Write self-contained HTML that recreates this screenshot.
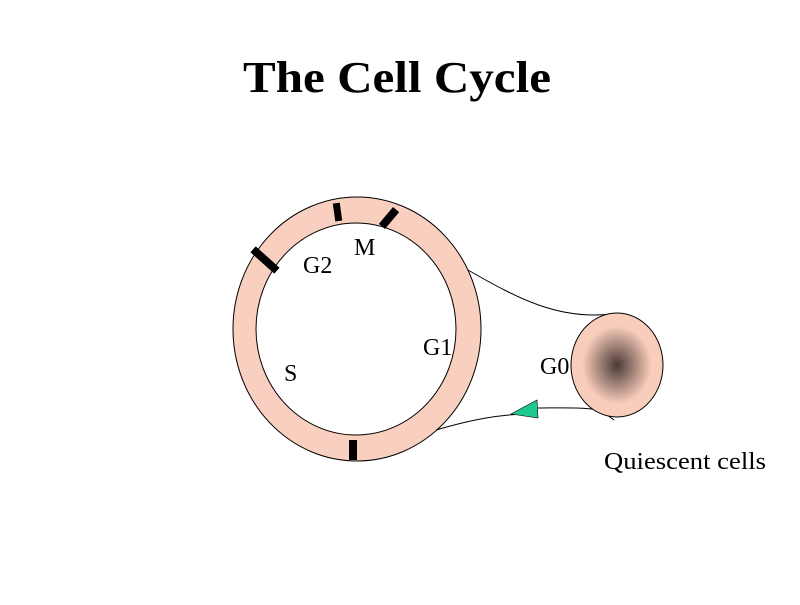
<!DOCTYPE html>
<html><head><style>
body{margin:0;background:#fff;width:800px;height:600px;overflow:hidden}
</style></head><body>
<svg width="800" height="600" xmlns="http://www.w3.org/2000/svg">
<defs>
<radialGradient id="g" cx="0.5" cy="0.5" r="0.5">
<stop offset="0" stop-color="#4a3a36"/>
<stop offset="0.75" stop-color="#f9cdbb"/>
<stop offset="1" stop-color="#f9cdbb"/>
</radialGradient>
</defs>
<text x="397" y="92" text-anchor="middle" font-family="Liberation Serif" font-weight="bold" font-size="44" textLength="308" lengthAdjust="spacingAndGlyphs">The Cell Cycle</text>
<ellipse cx="357" cy="329" rx="124" ry="132" fill="#f9d0c0" stroke="#000" stroke-width="1"/>
<ellipse cx="356" cy="329" rx="100" ry="106" fill="#fff" stroke="#000" stroke-width="1"/>
<rect x="261" y="244" width="8" height="32" fill="#000" transform="rotate(-48 265 260)"/>
<rect x="334" y="203" width="7" height="18" fill="#000" transform="rotate(-8 338 212)"/>
<rect x="385" y="207" width="8" height="22" fill="#000" transform="rotate(40 389 218)"/>
<rect x="349" y="440" width="8" height="20" fill="#000"/>
<path d="M468 270 C520 300 560 320 612 314" fill="none" stroke="#000" stroke-width="1"/>
<path d="M436 430 C470 420 500 414 530 414" fill="none" stroke="#000" stroke-width="1"/>
<path d="M538 408 C560 408 580 407 600 410 L614 420" fill="none" stroke="#000" stroke-width="1"/>
<ellipse cx="617" cy="365" rx="46" ry="52" fill="url(#g)" stroke="#000" stroke-width="1"/>
<polygon points="511,414 537,400 538,418" fill="#1cc98e" stroke="#000" stroke-width="0.6"/>
<g font-family="Liberation Serif" font-size="24">
<text x="354" y="255">M</text>
<text x="303" y="273">G2</text>
<text x="423" y="355">G1</text>
<text x="284" y="381">S</text>
<text x="540" y="374">G0</text>
<text x="604" y="469" textLength="162" lengthAdjust="spacingAndGlyphs">Quiescent cells</text>
</g>
</svg>
</body></html>
